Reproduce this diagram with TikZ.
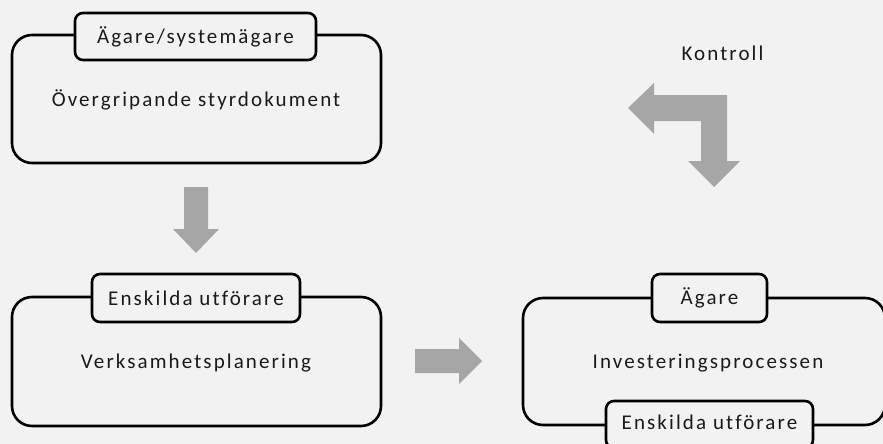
\documentclass[tikz,border=0pt]{standalone}
\usepackage{fontspec}
\setmainfont{Carlito}[LetterSpace=10, Ligatures=NoCommon]
\definecolor{bg}{HTML}{F2F2F2}
\definecolor{arr}{HTML}{A6A6A6}
\definecolor{txt}{HTML}{1A1A1A}
\begin{document}
\begin{tikzpicture}[x=1pt,y=-1pt,
  bigbox/.style={draw=black, line width=2.6pt, rounded corners=20pt, fill=bg, inner sep=0pt},
  tagbox/.style={draw=black, line width=2.6pt, rounded corners=8pt, fill=bg, inner sep=0pt},
  lbl/.style={font=\fontsize{21}{25}\selectfont, text=txt, inner sep=0pt},
  blockarrow/.style={fill=arr, draw=none}]
\fill[bg] (0,0) rectangle (883,444);
\useasboundingbox (0,0) rectangle (883,444);
\begin{scope}
\clip (0,0) rectangle (883,444);
% box 1
\node[bigbox, minimum width=369pt, minimum height=128pt] (b1) at (196.5,99) {};
\node[tagbox, minimum width=241pt, minimum height=47pt] (t1) at (195.5,36.5) {};
\node[lbl] (t1l) at (t1.center) {Ägare/systemägare};
\node[lbl] (b1l) at (196,100) {Övergripande styrdokument};
% box 2
\node[bigbox, minimum width=369pt, minimum height=129pt] (b2) at (196.5,361.5) {};
\node[tagbox, minimum width=208pt, minimum height=48pt] (t2) at (196,298) {};
\node[lbl] (t2l) at (t2.center) {Enskilda utförare};
\node[lbl] (b2l) at (196,363) {Verksamhetsplanering};
% box 3
\node[bigbox, minimum width=362pt, minimum height=127pt] (b3) at (704,361.5) {};
\node[tagbox, minimum width=115pt, minimum height=48pt] (t3) at (709.5,298) {};
\node[lbl] (t3l) at (t3.center) {Ägare};
\node[tagbox, minimum width=207pt, minimum height=47pt] (t4) at (709.5,424.5) {};
\node[lbl] (t4l) at (709.5,422) {Enskilda utförare};
\node[lbl] (b3l) at (708,363) {Investeringsprocessen};
\end{scope}
% Kontroll
\node[lbl] (k) at (722.5,53) {Kontroll};
% down arrow
\fill[blockarrow] (184,187) -- (208,187) -- (208,229) -- (219,229) -- (196,253) -- (173,229) -- (184,229) -- cycle;
% right arrow
\fill[blockarrow] (415,349) -- (459,349) -- (459,338) -- (482,361) -- (459,384) -- (459,373) -- (415,373) -- cycle;
% bent arrow
\fill[blockarrow] (628,108) -- (654,83) -- (654,95) -- (727,95) -- (727,161) -- (740,161) -- (714,187) -- (688,161) -- (701,161) -- (701,121) -- (654,121) -- (654,134) -- cycle;
\end{tikzpicture}
\end{document}
